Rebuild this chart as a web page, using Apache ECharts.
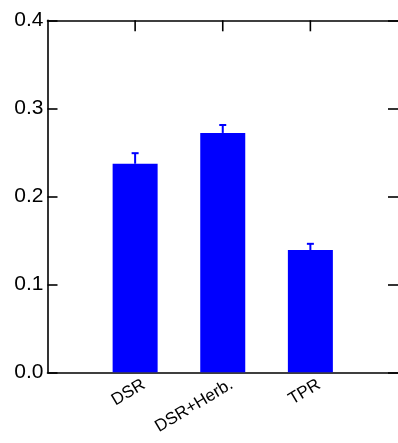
<!DOCTYPE html>
<html>
<head>
<meta charset="utf-8">
<script src="https://cdn.jsdelivr.net/npm/echarts@6/dist/echarts.min.js"></script>
<style>
  html, body { margin: 0; padding: 0; background: #fff; }
  #chart { width: 398px; height: 443px; }
</style>
</head>
<body>
<div id="chart"></div>
<script>
// Treatment groups and their mean values with standard errors
const categories = ['DSR', 'DSR+Herb.', 'TPR'];
const means = [0.237, 0.272, 0.139];
const errors = [0.012, 0.009, 0.007];
const yTickLabels = ['0.0', '0.1', '0.2', '0.3', '0.4'];

// Groups sit at positions 1..n on an x range of 0..n+1
const positions = categories.map((_, i) => i + 1);
const barData = positions.map((p, i) => [p, means[i]]);
const errData = positions.map((p, i) => [p, means[i], errors[i]]);
const Y_MAX = 0.4;

const FONT = 'Liberation Sans, Arial, sans-serif';
const AXIS_LINE = { show: true, onZero: false, lineStyle: { color: '#000', width: 1.6 } };
const TICK_STYLE = { color: '#000', width: 1.6 };
const LABEL_SHIFT = 0.1; // horizontal shift of group labels, in x units

const chart = echarts.init(document.getElementById('chart'), null, { renderer: 'canvas' });

chart.setOption({
  animation: false,
  backgroundColor: '#fff',
  grid: { left: 47.5, top: 20.3, width: 352, height: 352 },
  xAxis: [
    {
      // bottom frame line
      type: 'value', position: 'bottom', min: 0, max: categories.length + 1,
      axisLine: AXIS_LINE, axisTick: { show: false }, axisLabel: { show: false },
      splitLine: { show: false }
    },
    {
      // top frame line
      type: 'value', position: 'top', min: 0, max: categories.length + 1, interval: 1,
      axisLine: AXIS_LINE, axisTick: { show: false },
      axisLabel: { show: false }, splitLine: { show: false }
    },
    {
      // rotated group labels under the bars
      type: 'value', position: 'bottom',
      min: -LABEL_SHIFT, max: categories.length + 1 - LABEL_SHIFT,
      axisLine: { show: false, onZero: false }, axisTick: { show: false }, splitLine: { show: false },
      axisLabel: {
        show: true, customValues: positions, rotate: 31, margin: 11,
        fontFamily: FONT, fontSize: 17, color: '#000',
        formatter: v => categories[Math.round(v) - 1] || ''
      }
    }
  ],
  yAxis: [
    {
      type: 'value', position: 'left', min: 0, max: Y_MAX, interval: 0.1,
      axisLine: AXIS_LINE,
      axisTick: { show: true, inside: true, length: 10, lineStyle: TICK_STYLE },
      axisLabel: {
        show: true, margin: 4, fontFamily: FONT, fontSize: 21, color: '#000',
        padding: [5, 0, 0, 0],
        formatter: (v) => yTickLabels[Math.round(v * 10)]
      },
      splitLine: { show: false }
    },
    {
      // right frame: only the inward ticks fall inside the canvas
      type: 'value', position: 'right', min: 0, max: Y_MAX, interval: 0.1,
      axisLine: { show: false, onZero: false },
      axisTick: { show: true, inside: true, length: 10, lineStyle: TICK_STYLE },
      axisLabel: { show: false }, splitLine: { show: false }
    }
  ],
  series: [
    {
      type: 'bar', xAxisIndex: 0, yAxisIndex: 0, data: barData,
      barWidth: 45, itemStyle: { color: '#0000ff' }, z: 2
    },
    {
      // upper error bars with caps
      type: 'custom', xAxisIndex: 0, yAxisIndex: 0, data: errData, z: 3,
      renderItem: function (params, api) {
        const x = api.value(0);
        const m = api.value(1);
        const e = api.value(2);
        const base = api.coord([x, m]);
        const top = api.coord([x, m + e]);
        const half = 3.5;
        const style = { stroke: '#0000ff', lineWidth: 2 };
        return {
          type: 'group',
          children: [
            { type: 'line', shape: { x1: base[0], y1: base[1], x2: top[0], y2: top[1] }, style },
            { type: 'line', shape: { x1: top[0] - half, y1: top[1], x2: top[0] + half, y2: top[1] }, style }
          ]
        };
      }
    },
    {
      // inward ticks on the top frame above each group
      type: 'custom', xAxisIndex: 0, yAxisIndex: 0, z: 4, silent: true,
      data: positions.map(p => [p, Y_MAX]),
      renderItem: function (params, api) {
        const pt = api.coord([api.value(0), api.value(1)]);
        return {
          type: 'line',
          shape: { x1: pt[0], y1: pt[1], x2: pt[0], y2: pt[1] + 11 },
          style: { stroke: '#000', lineWidth: 1.6 }
        };
      }
    }
  ]
});
</script>
</body>
</html>
